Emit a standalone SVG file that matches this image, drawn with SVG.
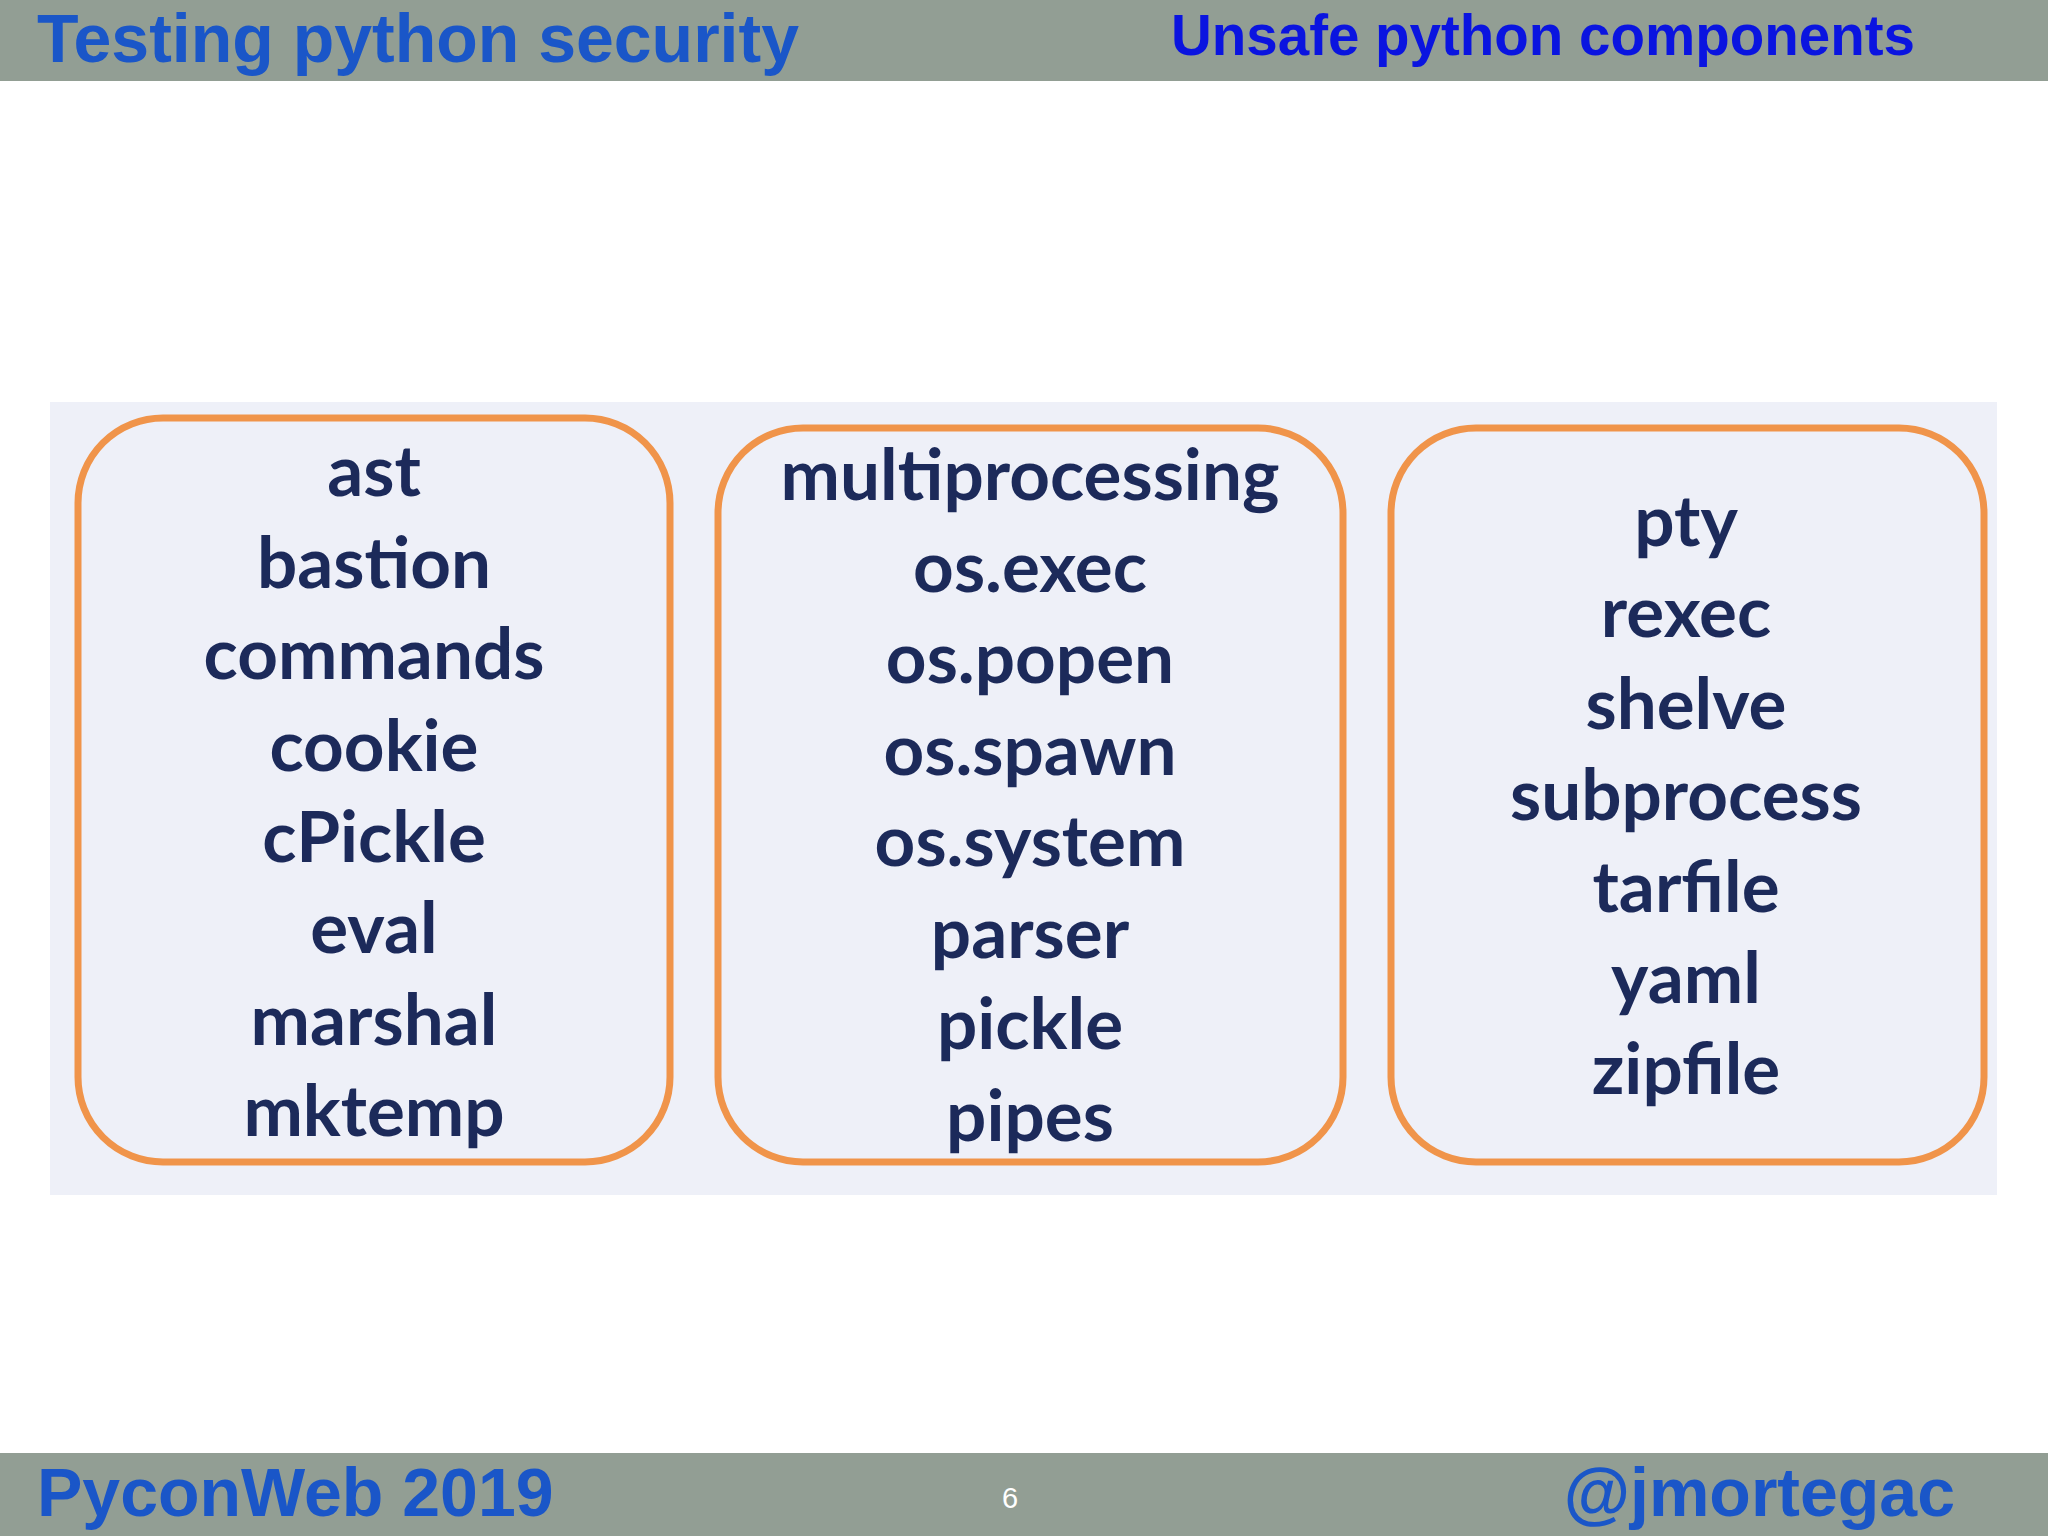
<svg xmlns="http://www.w3.org/2000/svg" width="2048" height="1536" viewBox="0 0 2048 1536">
<style>
.bar{fill:#929e94}
.box{fill:none;stroke:#f0944a;stroke-width:7}
.it{font-family:Lato,"Open Sans",sans-serif;font-weight:bold;font-size:71px;fill:#1c2a5a;text-anchor:middle}
.hd{font-family:"Liberation Sans",Arial,sans-serif;font-weight:bold}
</style>
<rect width="2048" height="1536" fill="#ffffff"/>
<g id="header">
<rect class="bar" x="0" y="0" width="2048" height="81"/>
<text class="hd" x="37" y="62" font-size="68" fill="#1a56c8">Testing python security</text>
<text class="hd" x="1171" y="55" font-size="56.5" fill="#0a14e0">Unsafe python components</text>
</g>
<g id="footer">
<rect class="bar" x="0" y="1453" width="2048" height="83"/>
<text class="hd" x="37" y="1516" font-size="68" fill="#1a56c8">PyconWeb 2019</text>
<text x="1010" y="1508" font-size="29" fill="#ffffff" text-anchor="middle" font-family="Liberation Sans,sans-serif">6</text>
<text class="hd" x="1955" y="1516" font-size="68" fill="#1a56c8" text-anchor="end">@jmortegac</text>
</g>
<rect id="panel" x="50" y="402" width="1947" height="793" fill="#eef0f8"/>
<g id="box1">
<rect class="box" x="78" y="418" width="592" height="744" rx="85"/>
<text class="it" x="374" y="496">ast</text>
<text class="it" x="374" y="588">bastion</text>
<text class="it" x="374" y="679">commands</text>
<text class="it" x="374" y="771">cookie</text>
<text class="it" x="374" y="862">cPickle</text>
<text class="it" x="374" y="953">eval</text>
<text class="it" x="374" y="1045">marshal</text>
<text class="it" x="374" y="1136">mktemp</text>
</g>
<g id="box2">
<rect class="box" x="718" y="428" width="625" height="734" rx="85"/>
<text class="it" x="1030" y="500">multiprocessing</text>
<text class="it" x="1030" y="592">os.exec</text>
<text class="it" x="1030" y="683">os.popen</text>
<text class="it" x="1030" y="775">os.spawn</text>
<text class="it" x="1030" y="866">os.system</text>
<text class="it" x="1030" y="958">parser</text>
<text class="it" x="1030" y="1049">pickle</text>
<text class="it" x="1030" y="1141">pipes</text>
</g>
<g id="box3">
<rect class="box" x="1391" y="428" width="593" height="734" rx="85"/>
<text class="it" x="1686" y="546">pty</text>
<text class="it" x="1686" y="637">rexec</text>
<text class="it" x="1686" y="729">shelve</text>
<text class="it" x="1686" y="820">subprocess</text>
<text class="it" x="1686" y="912">tarfile</text>
<text class="it" x="1686" y="1003">yaml</text>
<text class="it" x="1686" y="1094">zipfile</text>
</g>
<g id="connectors"/>
</svg>
